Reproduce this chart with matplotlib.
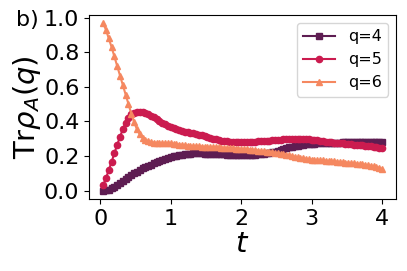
import numpy as np
import matplotlib
matplotlib.use("Agg")
import matplotlib.pyplot as plt

t = [round(0.04 * k, 2) for k in range(1, 101)]

q4 = [0.000, 0.002, 0.006, 0.012, 0.020, 0.030, 0.041, 0.053, 0.065, 0.077,
      0.089, 0.100, 0.110, 0.120, 0.128, 0.136, 0.143, 0.150, 0.157, 0.163,
      0.169, 0.175, 0.181, 0.187, 0.192, 0.197, 0.201, 0.205, 0.208, 0.211,
      0.213, 0.214, 0.215, 0.215, 0.215, 0.215, 0.214, 0.214, 0.213, 0.213,
      0.212, 0.211, 0.210, 0.209, 0.208, 0.207, 0.206, 0.206, 0.205, 0.205,
      0.205, 0.205, 0.206, 0.207, 0.208, 0.209, 0.211, 0.213, 0.215, 0.218,
      0.221, 0.225, 0.229, 0.234, 0.239, 0.244, 0.249, 0.253, 0.257, 0.260,
      0.263, 0.265, 0.267, 0.269, 0.270, 0.271, 0.272, 0.273, 0.274, 0.275,
      0.275, 0.276, 0.276, 0.277, 0.277, 0.278, 0.278, 0.278, 0.279, 0.279,
      0.279, 0.280, 0.280, 0.280, 0.281, 0.281, 0.281, 0.282, 0.282, 0.282]

q5 = [0.031, 0.070, 0.118, 0.165, 0.215, 0.265, 0.310, 0.355, 0.390, 0.420,
      0.440, 0.450, 0.455, 0.455, 0.452, 0.447, 0.440, 0.432, 0.423, 0.413,
      0.403, 0.393, 0.383, 0.374, 0.366, 0.359, 0.353, 0.348, 0.344, 0.341,
      0.338, 0.335, 0.332, 0.328, 0.324, 0.320, 0.315, 0.310, 0.305, 0.300,
      0.296, 0.292, 0.289, 0.286, 0.284, 0.283, 0.282, 0.281, 0.281, 0.281,
      0.281, 0.281, 0.282, 0.282, 0.283, 0.284, 0.285, 0.286, 0.287, 0.289,
      0.290, 0.291, 0.293, 0.294, 0.296, 0.297, 0.298, 0.299, 0.300, 0.300,
      0.300, 0.299, 0.298, 0.296, 0.294, 0.292, 0.290, 0.287, 0.284, 0.282,
      0.280, 0.278, 0.276, 0.275, 0.273, 0.272, 0.271, 0.269, 0.268, 0.266,
      0.265, 0.263, 0.261, 0.259, 0.257, 0.255, 0.252, 0.250, 0.247, 0.244]

q6 = [0.967, 0.930, 0.880, 0.830, 0.775, 0.720, 0.665, 0.610, 0.555, 0.500,
      0.445, 0.395, 0.355, 0.325, 0.305, 0.292, 0.284, 0.279, 0.277, 0.276,
      0.275, 0.275, 0.274, 0.273, 0.272, 0.270, 0.268, 0.266, 0.264, 0.262,
      0.260, 0.258, 0.257, 0.256, 0.255, 0.254, 0.253, 0.252, 0.252, 0.251,
      0.250, 0.249, 0.248, 0.247, 0.246, 0.245, 0.244, 0.243, 0.242, 0.240,
      0.239, 0.238, 0.237, 0.235, 0.233, 0.231, 0.229, 0.227, 0.225, 0.223,
      0.221, 0.218, 0.215, 0.212, 0.209, 0.206, 0.203, 0.199, 0.195, 0.192,
      0.189, 0.186, 0.183, 0.181, 0.179, 0.177, 0.176, 0.175, 0.174, 0.172,
      0.171, 0.169, 0.168, 0.166, 0.165, 0.163, 0.162, 0.160, 0.158, 0.157,
      0.155, 0.153, 0.151, 0.149, 0.146, 0.143, 0.140, 0.136, 0.131, 0.125]

labels = ["q=4", "q=5", "q=6"]
colors = ["#5e1d52", "#cb1b4f", "#f58860"]
markers = ["s", "o", "^"]

fig = plt.figure(figsize=(4.07, 2.71), dpi=100)
ax = fig.add_axes([0.219, 0.266, 0.754, 0.679])

for y, lab, c, m in zip([q4, q5, q6], labels, colors, markers):
    ax.plot(t, y, color=c, marker=m, ms=4.5, lw=1.5, label=lab)

ax.set_yticks([0.0, 0.2, 0.4, 0.6, 0.8, 1.0])
ax.set_xticks([0, 1, 2, 3, 4])
ax.tick_params(labelsize=16)
ax.set_xlabel(r"$t$", fontsize=21, labelpad=1)
ax.set_ylabel(r"$\mathrm{Tr}\rho_A(q)$", fontsize=21, labelpad=1)
ax.legend(loc="upper right", fontsize=11.5)
fig.text(0.04, 0.925, "b)", fontsize=16, ha="left", va="center")

fig.savefig("out.png", dpi=100)
